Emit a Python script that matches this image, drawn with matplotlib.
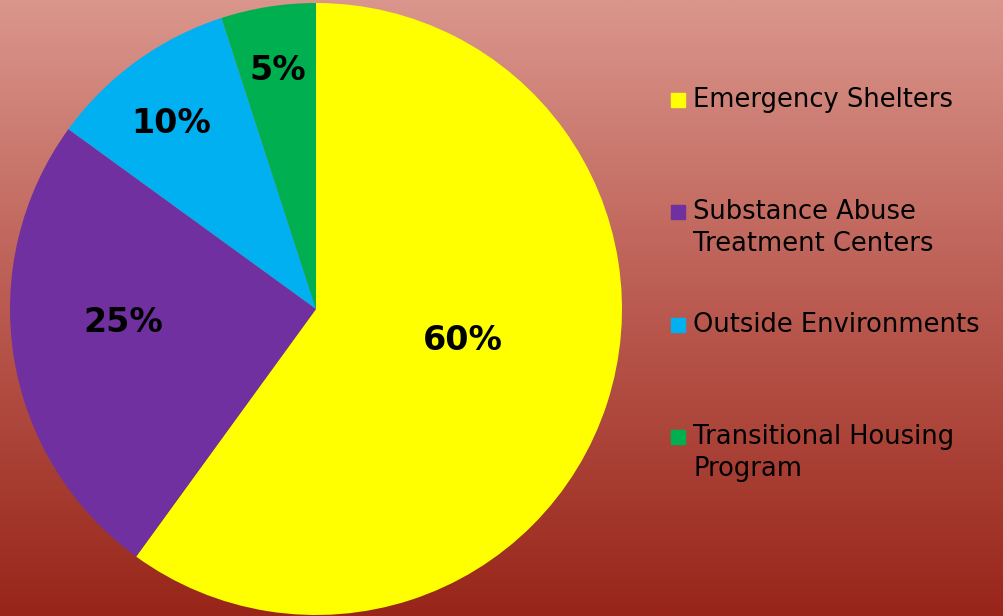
import matplotlib.pyplot as plt
import numpy as np
from matplotlib.colors import LinearSegmentedColormap
from matplotlib.patches import Rectangle

categories = ["Emergency Shelters", "Substance Abuse\nTreatment Centers",
              "Outside Environments", "Transitional Housing\nProgram"]
values = [60, 25, 10, 5]
colors = ["#ffff00", "#7030a0", "#00b0f0", "#00b050"]
label_radius = [0.49, 0.63, 0.77, 0.79]   # where each % label sits
label_shift = [6, -5, 2, 0]               # degrees off the wedge middle

fig = plt.figure(figsize=(10.04, 6.16), dpi=100)

# gradient background
bg = fig.add_axes([0, 0, 1, 1])
grad = LinearSegmentedColormap.from_list("bg", ["#da968c", "#ba5a50", "#982519"])
bg.imshow(np.linspace(0, 1, 256).reshape(-1, 1), aspect="auto", cmap=grad,
          extent=[0, 1, 0, 1], origin="upper")
bg.axis("off")

# pie centre (316,309) px, radius 306 px
W, H = 1004, 616
ax = fig.add_axes([(316 - 306) / W, (H - 309 - 306) / H, 612 / W, 612 / H])
wedges, _ = ax.pie(values, colors=colors, startangle=90, counterclock=False,
                   radius=1.0, wedgeprops=dict(linewidth=0))
ax.set_xlim(-1, 1)
ax.set_ylim(-1, 1)
ax.set_aspect("equal")
ax.axis("off")

for w, v, r, s in zip(wedges, values, label_radius, label_shift):
    ang = np.deg2rad((w.theta1 + w.theta2) / 2 + s)
    ax.text(r * np.cos(ang), r * np.sin(ang), f"{v}%", ha="center", va="center",
            fontsize=24, fontweight="bold", color="black")

# legend: text block centre and marker (on first line) in px from top
legend_y = [100, 228, 325, 453]
marker_y = [100, 212, 325, 437]
for lab, c, y, my in zip(categories, colors, legend_y, marker_y):
    fig.patches.append(Rectangle(((678 - 7) / W, 1 - (my + 7) / H), 14 / W, 14 / H,
                                 transform=fig.transFigure, color=c))
    fig.text(693 / W, 1 - y / H, lab, ha="left", va="center", fontsize=18.5,
             color="black", linespacing=1.3)

fig.savefig("out.png", dpi=100)
